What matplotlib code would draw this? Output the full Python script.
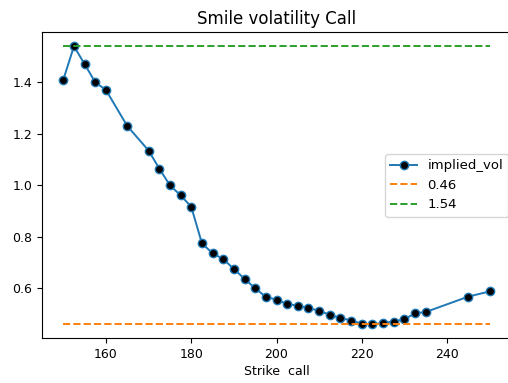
import matplotlib
matplotlib.use("Agg")
import matplotlib.pyplot as plt
import numpy as np

strike = [150, 152.5, 155, 157.5, 160, 165, 170, 172.5, 175, 177.5, 180,
          182.5, 185, 187.5, 190, 192.5, 195, 197.5, 200, 202.5, 205, 207.5,
          210, 212.5, 215, 217.5, 220, 222.5, 225, 227.5, 230, 232.5, 235,
          245, 250]
implied_vol = [1.41, 1.54, 1.47, 1.40, 1.37, 1.23, 1.135, 1.065, 1.00, 0.961,
               0.917, 0.775, 0.736, 0.714, 0.675, 0.637, 0.60, 0.567, 0.556,
               0.539, 0.533, 0.524, 0.513, 0.497, 0.485, 0.475, 0.463, 0.46,
               0.466, 0.471, 0.480, 0.503, 0.508, 0.568, 0.588]

vol_min = min(implied_vol)
vol_max = max(implied_vol)

plt.rcParams['font.size'] = 9
fig = plt.figure(figsize=(5.08, 3.83), dpi=100)
ax = fig.add_axes([42 / 508, 1 - 338.3 / 383, 469 / 508, 306 / 383])

ax.plot(strike, implied_vol, marker='o', color='C0', lw=1.4,
        markersize=6, markerfacecolor='black', markeredgewidth=1.0,
        label='implied_vol')
ax.hlines(vol_min, strike[0], strike[-1], colors='C1', linestyles='--',
          lw=1.4, label='%.2f' % vol_min)
ax.hlines(vol_max, strike[0], strike[-1], colors='C2', linestyles='--',
          lw=1.4, label='%.2f' % vol_max)

ax.set_title('Smile volatility Call', fontsize=12)
ax.set_xlabel('Strike  call', labelpad=3)
ax.legend(loc='center right', fontsize=9.5, borderaxespad=0.2)

fig.savefig('out.png', dpi=100)
